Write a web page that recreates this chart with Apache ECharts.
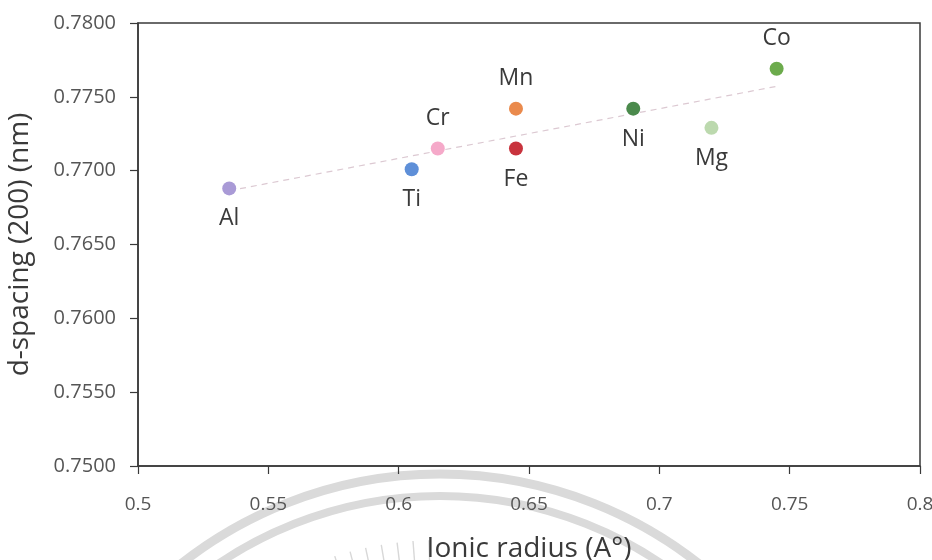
<!DOCTYPE html>
<html>
<head>
<meta charset="utf-8">
<script src="https://cdn.jsdelivr.net/npm/echarts@6/dist/echarts.min.js"></script>
<style>
  html, body { margin: 0; padding: 0; background: #fff; }
  #chart { width: 932px; height: 560px; }
</style>
</head>
<body>
<div id="chart"></div>
<script>
// Dopant elements, their ionic radius (Å) and the measured (200) d-spacing (nm)
const elements = ['Al', 'Ti', 'Cr', 'Mn', 'Fe', 'Ni', 'Mg', 'Co'];
const ionicRadius = [0.535, 0.605, 0.615, 0.645, 0.645, 0.69, 0.72, 0.745];
const dSpacing = [0.7688, 0.7701, 0.7715, 0.7742, 0.7715, 0.7742, 0.7729, 0.7769];
const labelSide = ['bottom', 'bottom', 'top', 'top', 'bottom', 'bottom', 'bottom', 'top'];
const pointColors = ['#a99ad6', '#5e8fd8', '#f5a9c9', '#ea8a4c', '#c8333d', '#4b8a4c', '#bcd9ae', '#6cab4c'];

const xTicks = { min: 0.5, max: 0.8, step: 0.05 };
const yTicks = { min: 0.75, max: 0.78, step: 0.005 };

// Least-squares linear trend through all points
function linearFit(xs, ys) {
  const n = xs.length;
  const mx = xs.reduce((a, b) => a + b, 0) / n;
  const my = ys.reduce((a, b) => a + b, 0) / n;
  let sxy = 0, sxx = 0;
  for (let i = 0; i < n; i++) {
    sxy += (xs[i] - mx) * (ys[i] - my);
    sxx += (xs[i] - mx) * (xs[i] - mx);
  }
  const slope = sxy / sxx;
  return x => my + slope * (x - mx);
}
const fit = linearFit(ionicRadius, dSpacing);
const xLo = Math.min(...ionicRadius), xHi = Math.max(...ionicRadius);
const trend = [[xLo, fit(xLo)], [xHi, fit(xHi)]];

const FONT = '"Open Sans", "DejaVu Sans", sans-serif';

const pointSeries = elements.map((el, i) => ({
  name: el,
  type: 'scatter',
  symbolSize: 14,
  z: 5,
  itemStyle: { color: pointColors[i], opacity: 1 },
  label: {
    show: true,
    formatter: el,
    position: labelSide[i],
    distance: 12,
    color: '#3a3a3a',
    fontSize: 23,
    fontFamily: FONT
  },
  data: [[ionicRadius[i], dSpacing[i]]]
}));

// Faint circular emblem printed behind the lower part of the page
const cx = 440, cy = 892;
const emblem = [
  { type: 'arc', shape: { cx, cy, r: 418, startAngle: Math.PI, endAngle: Math.PI * 2 },
    style: { stroke: '#dadada', lineWidth: 9, fill: null }, z: -1 },
  { type: 'arc', shape: { cx, cy, r: 396, startAngle: Math.PI, endAngle: Math.PI * 2 },
    style: { stroke: '#dadada', lineWidth: 8, fill: null }, z: -1 }
];
for (let deg = -110; deg <= -91; deg += 2.6) {
  const a = deg * Math.PI / 180;
  const r1 = 325, r2 = 352;
  emblem.push({
    type: 'line',
    shape: { x1: cx + r1 * Math.cos(a), y1: cy + r1 * Math.sin(a), x2: cx + r2 * Math.cos(a), y2: cy + r2 * Math.sin(a) },
    style: { stroke: '#d8d8d8', lineWidth: 1.4 },
    z: -1
  });
}

const chart = echarts.init(document.getElementById('chart'), null, { renderer: 'canvas' });
chart.setOption({
  backgroundColor: '#ffffff',
  animation: false,
  graphic: emblem,
  grid: {
    left: 138, right: 12, top: 23, bottom: 94,
    containLabel: false,
    outerBoundsMode: 'none',
    show: true, borderColor: '#3a3a3a', borderWidth: 1.5, backgroundColor: 'transparent'
  },
  xAxis: {
    type: 'value',
    min: xTicks.min, max: xTicks.max, interval: xTicks.step,
    name: 'Ionic radius (A\u00B0)',
    nameLocation: 'middle',
    nameGap: 69,
    nameTextStyle: { color: '#3a3a3a', fontSize: 28, fontFamily: FONT },
    axisLine: { show: true, lineStyle: { color: '#3a3a3a', width: 1.5 } },
    axisTick: { show: true, inside: false, length: 8, lineStyle: { color: '#3a3a3a', width: 1.2 } },
    axisLabel: {
      color: '#555', fontSize: 19, fontFamily: FONT, margin: 29,
      formatter: v => String(+v.toFixed(2))
    },
    splitLine: { show: false }
  },
  yAxis: {
    type: 'value',
    min: yTicks.min, max: yTicks.max, interval: yTicks.step,
    name: 'd-spacing (200) (nm)',
    nameLocation: 'middle',
    nameGap: 104,
    nameRotate: 90,
    nameTextStyle: { color: '#3a3a3a', fontSize: 28, fontFamily: FONT },
    axisLine: { show: true, lineStyle: { color: '#3a3a3a', width: 1.5 } },
    axisTick: { show: true, inside: false, length: 8, lineStyle: { color: '#3a3a3a', width: 1.2 } },
    axisLabel: {
      color: '#555', fontSize: 20, fontFamily: FONT, margin: 22,
      formatter: v => v.toFixed(4)
    },
    splitLine: { show: false }
  },
  series: [
    {
      name: 'trend',
      type: 'line',
      data: trend,
      symbol: 'none',
      z: 2,
      lineStyle: { color: '#dcc9d2', width: 1.2, type: [6, 5] },
      silent: true
    }
  ].concat(pointSeries)
});
</script>
</body>
</html>
